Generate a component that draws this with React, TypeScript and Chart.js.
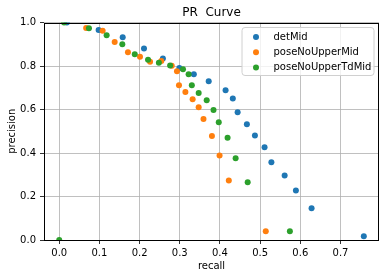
import React, { useEffect, useRef } from "react";
import { Chart, registerables } from "chart.js";

Chart.register(...registerables);

const seriesNames = ["detMid", "poseNoUpperMid", "poseNoUpperTdMid"];
const seriesColors = ["#1f77b4", "#ff7f0e", "#2ca02c"];

const detMidRecall = [0.019, 0.098, 0.158, 0.211, 0.258, 0.299, 0.335, 0.372, 0.414, 0.432, 0.444, 0.467, 0.487, 0.511, 0.528, 0.561, 0.589, 0.628, 0.758];
const detMidPrecision = [1.0, 0.966, 0.932, 0.881, 0.835, 0.791, 0.762, 0.730, 0.688, 0.651, 0.587, 0.532, 0.481, 0.426, 0.357, 0.297, 0.228, 0.146, 0.017];

const poseRecall = [0.067, 0.108, 0.138, 0.171, 0.201, 0.226, 0.254, 0.280, 0.293, 0.298, 0.314, 0.332, 0.347, 0.359, 0.380, 0.399, 0.422, 0.514];
const posePrecision = [0.975, 0.962, 0.910, 0.863, 0.843, 0.820, 0.823, 0.801, 0.776, 0.712, 0.680, 0.647, 0.610, 0.556, 0.478, 0.389, 0.274, 0.040];

const poseTdRecall = [0.0, 0.012, 0.074, 0.118, 0.157, 0.188, 0.221, 0.248, 0.276, 0.308, 0.322, 0.330, 0.347, 0.367, 0.384, 0.397, 0.419, 0.439, 0.469, 0.574];
const poseTdPrecision = [0.0, 1.0, 0.973, 0.941, 0.900, 0.854, 0.829, 0.815, 0.802, 0.785, 0.762, 0.712, 0.676, 0.642, 0.598, 0.541, 0.470, 0.376, 0.265, 0.040];

const xTickValues = [0, 0.1, 0.2, 0.3, 0.4, 0.5, 0.6, 0.7];
const yTickValues = [0, 0.2, 0.4, 0.6, 0.8, 1.0];

const FONT = "'DejaVu Sans', sans-serif";

function toPoints(xs: number[], ys: number[]) {
  return xs.map((x, i) => ({ x, y: ys[i] }));
}

const framePlugin = {
  id: "frame",
  afterDatasetsDraw(chart: any) {
    const { ctx, chartArea } = chart;
    ctx.save();
    ctx.strokeStyle = "#000";
    ctx.lineWidth = 1;
    ctx.strokeRect(
      Math.round(chartArea.left) + 0.5,
      Math.round(chartArea.top) + 0.5,
      Math.round(chartArea.right - chartArea.left) - 1,
      Math.round(chartArea.bottom - chartArea.top) - 1
    );
    ctx.restore();
  },
};

const legendPlugin = {
  id: "mplLegend",
  afterDraw(chart: any) {
    const { ctx, chartArea } = chart;
    const w = 132;
    const h = 48;
    const x = chartArea.right - 5 - w;
    const y = chartArea.top + 5;
    ctx.save();
    ctx.beginPath();
    const r = 3;
    ctx.moveTo(x + r, y);
    ctx.lineTo(x + w - r, y);
    ctx.arcTo(x + w, y, x + w, y + r, r);
    ctx.lineTo(x + w, y + h - r);
    ctx.arcTo(x + w, y + h, x + w - r, y + h, r);
    ctx.lineTo(x + r, y + h);
    ctx.arcTo(x, y + h, x, y + h - r, r);
    ctx.lineTo(x, y + r);
    ctx.arcTo(x, y, x + r, y, r);
    ctx.closePath();
    ctx.fillStyle = "rgba(255,255,255,0.8)";
    ctx.fill();
    ctx.strokeStyle = "#d0d0d0";
    ctx.lineWidth = 1;
    ctx.stroke();
    ctx.font = `10px ${FONT}`;
    ctx.textBaseline = "middle";
    ctx.textAlign = "left";
    seriesNames.forEach((name, i) => {
      const cy = y + 9.5 + i * 15.2;
      ctx.beginPath();
      ctx.arc(x + 14, cy, 3, 0, Math.PI * 2);
      ctx.fillStyle = seriesColors[i];
      ctx.fill();
      ctx.fillStyle = "#000";
      ctx.fillText(name, x + 31.5, cy);
    });
    ctx.restore();
  },
};

export default function App() {
  const canvasRef = useRef<HTMLCanvasElement | null>(null);

  useEffect(() => {
    if (!canvasRef.current) return;
    const data = [
      toPoints(detMidRecall, detMidPrecision),
      toPoints(poseRecall, posePrecision),
      toPoints(poseTdRecall, poseTdPrecision),
    ];
    const chart = new Chart(canvasRef.current, {
      type: "scatter",
      data: {
        datasets: data.map((pts, i) => ({
          label: seriesNames[i],
          data: pts,
          backgroundColor: seriesColors[i],
          borderColor: seriesColors[i],
          borderWidth: 0,
          pointRadius: 3,
          pointHoverRadius: 3,
          order: 3 - i,
          clip: 0,
        })),
      },
      options: {
        animation: false,
        responsive: false,
        events: [],
        layout: { padding: { left: 0, right: 7, top: 0, bottom: 0 } },
        plugins: {
          legend: { display: false },
          tooltip: { enabled: false },
          title: {
            display: true,
            text: "PR  Curve",
            fullSize: false,
            color: "#000",
            font: { family: FONT, size: 12, weight: "normal", lineHeight: 1.2 },
            padding: { top: 6, bottom: 2.1 },
          },
        },
        scales: {
          x: {
            type: "linear",
            min: -0.0379,
            max: 0.7958,
            afterFit: (s: any) => {
              s.height = 38;
            },
            afterBuildTicks: (s: any) => {
              s.ticks = xTickValues.map((v) => ({ value: v }));
            },
            ticks: {
              color: "#000",
              font: { family: FONT, size: 10 },
              padding: 3,
              maxRotation: 0,
              callback: (v: any) => Number(v).toFixed(1),
            },
            grid: {
              color: "#b0b0b0",
              lineWidth: 0.8,
              drawTicks: true,
              tickLength: 4,
              tickColor: "#000",
            },
            border: { display: false },
            title: {
              display: true,
              text: "recall",
              color: "#000",
              font: { family: FONT, size: 10, lineHeight: 1.2 },
              padding: { top: 0, bottom: 6 },
            },
          },
          y: {
            type: "linear",
            min: 0,
            max: 1,
            afterFit: (s: any) => {
              s.width = 44;
            },
            afterBuildTicks: (s: any) => {
              s.ticks = yTickValues.map((v) => ({ value: v }));
            },
            ticks: {
              color: "#000",
              font: { family: FONT, size: 10 },
              padding: 4,
              callback: (v: any) => Number(v).toFixed(1),
            },
            grid: {
              color: "#b0b0b0",
              lineWidth: 0.8,
              drawTicks: true,
              tickLength: 4,
              tickColor: "#000",
            },
            border: { display: false },
            title: {
              display: true,
              text: "precision",
              color: "#000",
              font: { family: FONT, size: 10, lineHeight: 1.2 },
              padding: { top: 6, bottom: 0 },
            },
          },
        },
      },
      plugins: [framePlugin, legendPlugin],
    } as any);
    return () => chart.destroy();
  }, []);

  return (
    <div style={{ position: "absolute", left: 0, top: 0, width: 386, height: 278, background: "#fff" }}>
      <canvas ref={canvasRef} width={386} height={278} style={{ display: "block" }} />
    </div>
  );
}
